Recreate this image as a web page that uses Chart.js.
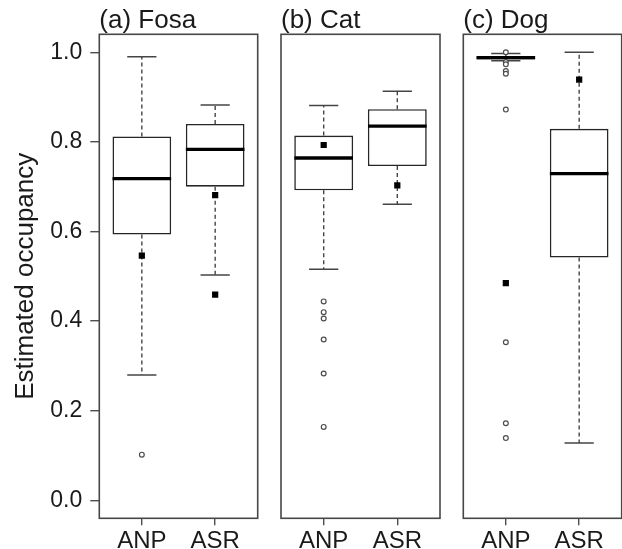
<!DOCTYPE html>
<html>
<head>
<meta charset="utf-8">
<script src="https://cdn.jsdelivr.net/npm/chart.js@4.4.1/dist/chart.umd.min.js"></script>
<style>
  html, body { margin: 0; padding: 0; background: #fff; }
  #wrap { position: relative; width: 622px; height: 549px; overflow: hidden; background: #fff; }
  canvas { position: absolute; top: 0; }
</style>
</head>
<body>
<div id="wrap">
  <canvas id="c0" width="262" height="549" style="left:0px"></canvas>
  <canvas id="c1" width="174" height="549" style="left:270px"></canvas>
  <canvas id="c2" width="170" height="549" style="left:452px"></canvas>
</div>
<script>
// ---------------- DATA ----------------
const categories = ['ANP', 'ASR'];
const panelTitles = ['(a) Fosa', '(b) Cat', '(c) Dog'];
const yTicks = [0.0, 0.2, 0.4, 0.6, 0.8, 1.0];
const yAxisTitle = 'Estimated occupancy';

// box stats per category: [lower whisker, Q1, median, Q3, upper whisker]
const fosaStats = [[0.280, 0.593, 0.718, 0.812, 0.990], [0.503, 0.700, 0.783, 0.840, 0.882]];
const fosaOutliers = [[0.102], []];
const fosaEstimates = [[0.546], [0.681, 0.459]];

const catStats = [[0.516, 0.692, 0.764, 0.814, 0.881], [0.661, 0.746, 0.835, 0.873, 0.913]];
const catOutliers = [[0.444, 0.420, 0.406, 0.359, 0.283, 0.164], []];
const catEstimates = [[0.793], [0.703]];

const dogStats = [[0.981, 0.984, 0.988, 0.991, 0.997], [0.128, 0.542, 0.729, 0.829, 1.000]];
const dogOutliers = [[1.000, 0.978, 0.973, 0.958, 0.952, 0.872, 0.353, 0.172, 0.139], []];
const dogEstimates = [[0.485], [0.939]];

// ---------------- LAYOUT (not data) ----------------
const FONT = "'Liberation Sans', Arial, Helvetica, sans-serif";
Chart.defaults.font.family = FONT;
const H = 549;
const plotBottom = 518.3;
const panels = [
  { canvas: 'c0', canvasLeft: 0,   width: 262, left: 99.3,  right: 257.7, yAxis: true },
  { canvas: 'c1', canvasLeft: 270, width: 174, left: 281,   right: 440,   yAxis: false },
  { canvas: 'c2', canvasLeft: 452, width: 170, left: 463.3, right: 621.7, yAxis: false }
];
const panelData = [
  [fosaStats, fosaOutliers, fosaEstimates],
  [catStats, catOutliers, catEstimates],
  [dogStats, dogOutliers, dogEstimates]
];

const framePlugin = {
  id: 'frame',
  afterDatasetsDraw(chart) {
    const { ctx, chartArea: a } = chart;
    ctx.save();
    ctx.strokeStyle = '#474747';
    ctx.lineWidth = 1.6;
    ctx.strokeRect(a.left, a.top, a.right - a.left, a.bottom - a.top);
    ctx.restore();
  }
};

function buildDatasets(stats, outliers, estimates) {
  const boxes = [], whiskers = [], caps = [], medians = [], outPts = [], estPts = [];
  stats.forEach((s, i) => {
    const x = i + 1;
    const [lo, q1, med, q3, hi] = s;
    boxes.push({ x: x, y: [q1, q3] });
    whiskers.push({ x: x, y: q3 }, { x: x, y: hi }, { x: x, y: null },
                  { x: x, y: q1 }, { x: x, y: lo }, { x: x, y: null });
    caps.push({ x: x, y: hi }, { x: x, y: lo });
    medians.push({ x: x, y: med });
    outliers[i].forEach(v => outPts.push({ x: x, y: v }));
    estimates[i].forEach(v => estPts.push({ x: x, y: v }));
  });
  return [
    { type: 'scatter', data: estPts, order: 0, pointStyle: 'rect', pointRadius: 4.4,
      pointBackgroundColor: '#000', pointBorderColor: '#000', pointBorderWidth: 0 },
    { type: 'scatter', data: outPts, order: 1, pointStyle: 'circle', pointRadius: 2.4,
      pointBackgroundColor: '#fff', pointBorderColor: '#4d4d4d', pointBorderWidth: 1.2 },
    { type: 'scatter', data: medians, order: 2, pointStyle: 'line', pointRadius: 29.3,
      pointBorderColor: '#000', pointBorderWidth: 3.3 },
    { type: 'scatter', data: caps, order: 3, pointStyle: 'line', pointRadius: 14.6,
      pointBorderColor: '#444', pointBorderWidth: 1.5 },
    { type: 'bar', data: boxes, order: 4, backgroundColor: '#fff', borderColor: '#262626',
      borderWidth: 1.6, borderSkipped: false, categoryPercentage: 0.8, barPercentage: 1.0 },
    { type: 'line', data: whiskers, order: 5, borderColor: '#444', borderWidth: 1.4,
      borderDash: [4, 3], pointRadius: 0, spanGaps: false, fill: false, tension: 0 }
  ];
}

panels.forEach((p, k) => {
  const [stats, outliers, estimates] = panelData[k];
  const padLeft = p.yAxis ? 0 : p.left - p.canvasLeft;
  const padRight = p.canvasLeft + p.width - p.right;
  new Chart(document.getElementById(p.canvas), {
    type: 'scatter',
    data: { datasets: buildDatasets(stats, outliers, estimates) },
    options: {
      responsive: false,
      animation: false,
      events: [],
      devicePixelRatio: 1,
      layout: { autoPadding: false, padding: { left: padLeft, right: padRight, top: 0, bottom: 0 } },
      plugins: {
        legend: { display: false },
        tooltip: { enabled: false },
        title: {
          display: true, text: panelTitles[k], align: 'start', fullSize: false,
          color: '#1a1a1a', font: { size: 26, weight: 'normal', lineHeight: 1.0 },
          padding: { top: 8.3, bottom: 0 }
        }
      },
      scales: {
        x: {
          type: 'linear', min: 0.42, max: 2.58, offset: false,
          afterBuildTicks: s => { s.ticks = categories.map((c, i) => ({ value: i + 1 })); },
          afterFit: s => { s.height = H - plotBottom; },
          ticks: { autoSkip: false, maxRotation: 0, padding: 2, color: '#1a1a1a',
                   font: { size: 24 }, callback: (v, i) => categories[i] },
          grid: { offset: false, drawOnChartArea: false, drawTicks: true, tickLength: 7,
                  color: '#4d4d4d', lineWidth: 1.4 },
          border: { display: false }
        },
        y: {
          type: 'linear', min: -0.04, max: 1.04, display: p.yAxis,
          afterBuildTicks: s => { s.ticks = yTicks.map(v => ({ value: v })); },
          afterFit: s => { if (p.yAxis) s.width = p.left - p.canvasLeft; },
          ticks: { padding: 8, color: '#1a1a1a', font: { size: 23 },
                   callback: v => Number(v).toFixed(1) },
          grid: { drawOnChartArea: false, drawTicks: true, tickLength: 9,
                  color: '#4d4d4d', lineWidth: 1.4 },
          border: { display: false },
          title: { display: true, text: yAxisTitle, color: '#1a1a1a',
                   font: { size: 26, lineHeight: 1.2 }, padding: { top: 10, bottom: 0 } }
        }
      }
    },
    plugins: [framePlugin]
  });
});
</script>
</body>
</html>
